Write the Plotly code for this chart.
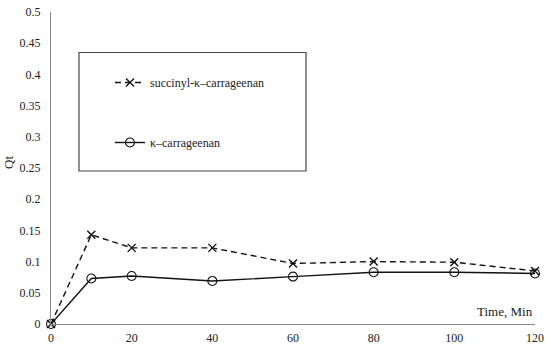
import plotly.graph_objects as go

time_min = [0, 10, 20, 40, 60, 80, 100, 120]
succinyl = [0, 0.143, 0.122, 0.122, 0.097, 0.100, 0.099, 0.085]
kappa = [0, 0.073, 0.077, 0.069, 0.076, 0.083, 0.083, 0.081]
y_ticks = [0, 0.05, 0.1, 0.15, 0.2, 0.25, 0.3, 0.35, 0.4, 0.45, 0.5]
y_tick_text = ["0", "0.05", "0.1", "0.15", "0.2", "0.25", "0.3", "0.35", "0.4", "0.45", "0.5"]
x_ticks = [0, 20, 40, 60, 80, 100, 120]

FONT = "Liberation Serif, DejaVu Serif, serif"
L, R, T, B = 51, 15, 12, 25
W, H = 550, 349
PW, PH = W - L - R, H - T - B

def px(x):
    return (x - L) / PW

def py(y):
    return (H - B - y) / PH

fig = go.Figure()
fig.add_trace(go.Scatter(
    x=time_min, y=succinyl, name="succinyl-κ–carrageenan",
    mode="lines+markers", legendgroup="a",
    line=dict(color="#111111", width=1.4, dash="6px,4px"),
    marker=dict(symbol="x-thin-open", size=8, line=dict(color="#111111", width=1.4)),
    cliponaxis=False,
))
fig.add_trace(go.Scatter(
    x=time_min, y=kappa, name="κ–carrageenan",
    mode="lines+markers", legendgroup="b",
    line=dict(color="#111111", width=1.4),
    marker=dict(symbol="circle-open", size=9, color="#111111", line=dict(color="#111111", width=1.1)),
    cliponaxis=False,
))

fig.add_shape(type="rect", xref="paper", yref="paper",
              x0=px(79), x1=px(306), y0=py(171), y1=py(52.5),
              line=dict(color="#444444", width=1.2), fillcolor="rgba(0,0,0,0)")

fig.add_annotation(text="Qt", xref="paper", yref="paper", x=px(9), y=py(163),
                   textangle=-90, showarrow=False, font=dict(family=FONT, size=13, color="#222"),
                   xanchor="center", yanchor="middle")
fig.add_annotation(text="Time, Min", xref="paper", yref="paper", x=px(535), y=py(311.5),
                   showarrow=False, font=dict(family=FONT, size=13, color="#222"),
                   xanchor="right", yanchor="middle")

fig.update_layout(
    width=W, height=H,
    margin=dict(l=L, r=R, t=T, b=B, autoexpand=False),
    paper_bgcolor="white", plot_bgcolor="white",
    font=dict(family=FONT, size=12, color="#222"),
    showlegend=True,
    legend=dict(x=px(110), y=py(68), xanchor="left", yanchor="top",
                bgcolor="rgba(0,0,0,0)", borderwidth=0,
                traceorder="grouped", tracegroupgap=41,
                font=dict(family=FONT, size=12, color="#222")),
    xaxis=dict(range=[0, 120], tickvals=x_ticks, showgrid=False, zeroline=False,
               showline=True, linecolor="#8a8a8a", linewidth=1.2, ticks="",
               ticklabelstandoff=2, automargin=False),
    yaxis=dict(range=[0, 0.5], tickvals=y_ticks, ticktext=y_tick_text, showgrid=False,
               zeroline=False, showline=True, linecolor="#8a8a8a", linewidth=1.2, ticks="",
               ticklabelstandoff=7, automargin=False),
)

fig.write_html("out.html", config={"displayModeBar": False},
               post_script="document.body.style.margin='0px';document.body.style.overflow='hidden';")
